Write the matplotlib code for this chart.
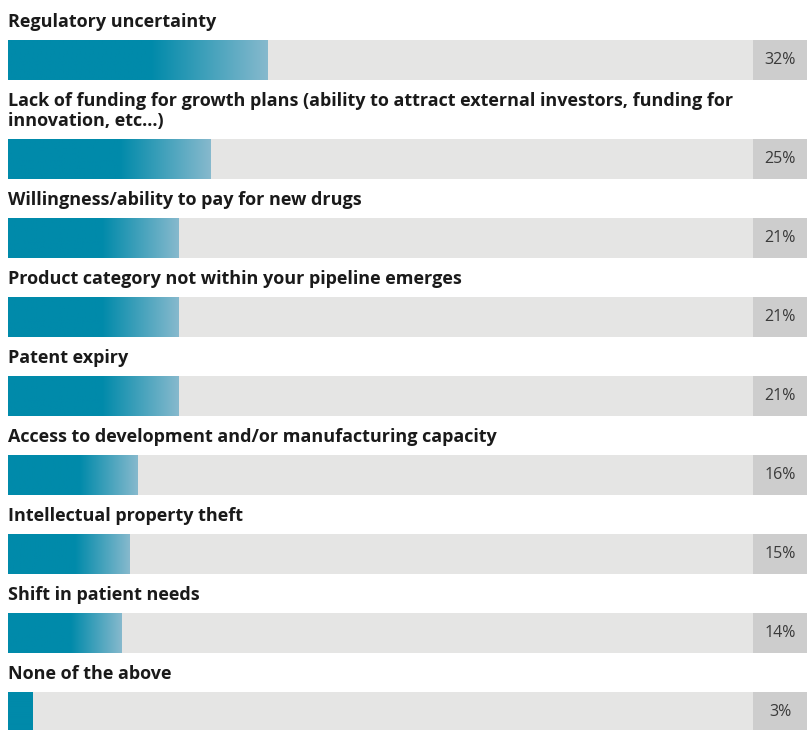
import numpy as np
import matplotlib.pyplot as plt
from matplotlib.colors import to_rgb

# datos del grafico
labels = [
    "Regulatory uncertainty",
    "Lack of funding for growth plans (ability to attract external investors, funding for\ninnovation, etc\u2026)",
    "Willingness/ability to pay for new drugs",
    "Product category not within your pipeline emerges",
    "Patent expiry",
    "Access to development and/or manufacturing capacity",
    "Intellectual property theft",
    "Shift in patient needs",
    "None of the above",
]
values = [32, 25, 21, 21, 21, 16, 15, 14, 3]

# colores
c_dark = np.array(to_rgb("#008aaa"))
c_light = np.array(to_rgb("#86b9cd"))
c_track = "#e5e5e4"
c_box = "#cdcdcd"
c_text = "#1a1a1a"

W, H = 807, 730
px_per = 8.1          # pixeles por punto porcentual
x0 = 8                # margen izquierdo en pixeles
track_end = 92        # fin de la barra gris
bar_h = 40

fig = plt.figure(figsize=(W / 100, H / 100), dpi=100)
ax = fig.add_axes([0, 0, 1, 1])
ax.axis("off")

xmin = -x0 / px_per
xmax = (W - x0) / px_per

# posicion vertical de cada fila (en pixeles)
tops = []
y = 40
for lab in labels:
    tops.append(y)
    y += bar_h + 39
    nxt = len(tops)
    if nxt < len(labels):
        y += 20 * labels[nxt].count("\n")

for lab, v, top in zip(labels, values, tops):
    bottom = top + bar_h
    # pista gris y caja del valor
    ax.fill_between([0, track_end], top, bottom, color=c_track, lw=0)
    ax.fill_between([track_end, xmax], top, bottom, color=c_box, lw=0)
    # barra con degradado
    n = 200
    t = np.linspace(0, 1, n)
    start = 0.55 if v > 5 else 1.0
    f = np.clip((t - start) / max(1 - start, 1e-6), 0, 1)
    cols = c_dark[None, :] * (1 - f[:, None]) + c_light[None, :] * f[:, None]
    ax.imshow(cols[None, :, :], extent=[0, v, bottom, top], aspect="auto",
              interpolation="bilinear", zorder=2)
    # textos
    ax.text(0, top - 9, lab, ha="left", va="bottom", fontsize=13,
            fontweight="bold", family="Open Sans", color=c_text,
            linespacing=1.15)
    ax.text((track_end + xmax) / 2, (top + bottom) / 2, f"{v}%", ha="center",
            va="center", fontsize=11.5, family="Open Sans", color="#3a3a3a")

ax.set_xlim(xmin, xmax)
ax.set_ylim(H, 0)

plt.savefig("out.png", dpi=100)
